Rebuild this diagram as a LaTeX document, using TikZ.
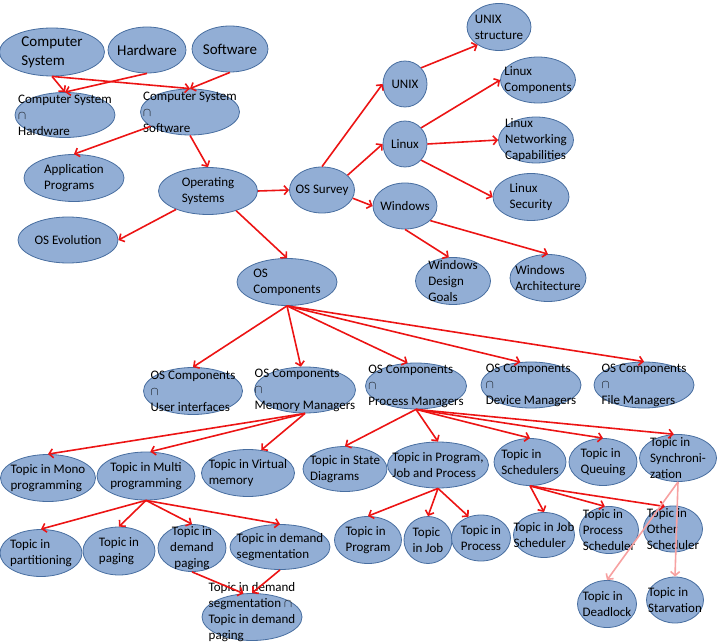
\documentclass[tikz,border=0pt]{standalone}
\usepackage{fontspec}
\setmainfont{Carlito}
\usetikzlibrary{arrows.meta,shapes.geometric}
\definecolor{blobfill}{RGB}{146,174,213}
\definecolor{blobline}{RGB}{72,110,160}
\definecolor{linkred}{RGB}{236,20,20}
\tikzset{blob/.style={ellipse,draw=blobline,fill=blobfill,line width=0.8pt,inner sep=0pt}}
\tikzset{txt/.style={align=left,inner sep=0pt,font=\fontsize{13}{16}\selectfont}}
\tikzset{big/.style={font=\fontsize{15}{19}\selectfont}}
\tikzset{link/.style={draw=linkred,line width=1.6pt,
                      -{Straight Barb[length=4pt,width=9pt]}}}
\tikzset{faint/.style={link,draw=linkred!40}}
\newcommand{\bubble}[6][]{%
  \node[blob,minimum width=#4pt,minimum height=#5pt] (#2) at (#3) {};
  \node[txt,#1] (#2-t) at (#2) {#6};}

\begin{document}
\begin{tikzpicture}[x=1pt,y=-1pt]
    \useasboundingbox (0,0) rectangle (717,644);
    % top rows
    \bubble[big]{cs}{52,52}{105}{48}{Computer\\System}
    \bubble[big]{hw}{147,50}{78}{46}{Hardware}
    \bubble[big]{sw}{230,49}{76}{46}{Software}
    \bubble{cshw}{65,115}{100}{45}{Computer System\\$\cap$\\Hardware}
    \bubble{cssw}{190,112}{99}{46}{Computer System\\$\cap$\\Software}
    \bubble{app}{74,178}{100}{47}{Application\\Programs}
    \bubble{os}{208,191}{99}{47}{Operating\\Systems}
    \bubble{evo}{68,240}{100}{46}{OS Evolution}
    \bubble{survey}{322,190}{65}{46}{OS Survey}
    % survey branch
    \bubble{unixs}{499,27}{64}{47}{UNIX\\structure}
    \bubble{unix}{405,84}{44}{46}{UNIX}
    \bubble{lcomp}{538,80}{75}{46}{Linux\\Components}
    \bubble{linux}{405,144}{44}{46}{Linux}
    \bubble{lnet}{536,140}{75}{46}{Linux\\Networking\\Capabilities}
    \bubble{lsec}{531,197}{76}{47}{Linux\\Security}
    \bubble{win}{405,206}{64}{46}{Windows}
    \bubble{wdg}{453,281}{75}{47}{Windows\\Design\\Goals}
    \bubble{warch}{548,278}{76}{47}{Windows\\Architecture}
    % components
    \bubble{comp}{287,282}{100}{47}{OS\\Components}
    \bubble{ui}{193,391}{99}{47}{OS Components\\$\cap$\\User interfaces}
    \bubble{mm}{305,390}{101}{46}{OS Components\\$\cap$\\Memory Managers}
    \bubble{pm}{416,386}{101}{46}{OS Components\\$\cap$\\Process Managers}
    \bubble{dm}{531,385}{100}{46}{OS Components\\$\cap$\\Device Managers}
    \bubble{fm}{644,385}{100}{46}{OS Components\\$\cap$\\File Managers}
    % topics
    \bubble{mono}{48,478}{95}{47}{Topic in Mono\\programming}
    \bubble{multi}{146,476}{98}{48}{Topic in Multi\\programming}
    \bubble{virt}{248,473}{93}{47}{Topic in Virtual\\memory}
    \bubble{state}{345,469}{84}{45}{Topic in State\\Diagrams}
    \bubble{pjp}{438,465}{101}{46}{Topic in Program,\\Job and Process}
    \bubble{sched}{530,462}{72}{47}{Topic in\\Schedulers}
    \bubble{queue}{603,462}{68}{47}{Topic in\\Queuing}
    \bubble{sync}{678,458}{77}{47}{Topic in\\Synchroni-\\zation}
    \bubble{part}{41,553}{82}{47}{Topic in\\partitioning}
    \bubble{paging}{119,551}{72}{48}{Topic in\\paging}
    \bubble[align=center]{dpag}{192,548}{68}{47}{Topic in\\demand\\paging}
    \bubble{dseg}{280,547}{100}{45}{Topic in demand\\segmentation}
    \bubble[yshift=5pt]{inter}{252,617}{100}{47}{Topic in demand\\segmentation $\cap$\\Topic in demand\\paging}
    \bubble{prog}{368,540}{67}{47}{Topic in\\Program}
    \bubble{job}{428,540}{48}{47}{Topic\\in Job}
    \bubble{proc}{481,538}{59}{46}{Topic in\\Process}
    \bubble{jobs}{544,535}{61}{45}{Topic in Job\\Scheduler}
    \bubble{procs}{609,530}{59}{47}{Topic in\\Process\\Scheduler}
    \bubble{other}{673,529}{59}{46}{Topic in\\Other\\Scheduler}
    \bubble{dead}{607,604}{59}{47}{Topic in\\Deadlock}
    \bubble{starv}{675,600}{57}{46}{Topic in\\Starvation}
    % links
    \foreach \a/\b in {cs.south/cshw.north, cs.south/cssw.north,
                       hw.south/cshw.north, sw.south/cssw.north,
                       cssw.200/app.north, cssw.south/os.north,
                       os.east/survey.west, os.210/evo.east, os.-35/comp.north,
                       survey.north/unix.west, survey.30/linux.west,
                       survey.-15/win.west, unix.45/unixs.220,
                       linux.45/lcomp.west, linux.east/lnet.west,
                       linux.-45/lsec.west, win.south/wdg.100,
                       win.-30/warch.north,
                       comp.south/ui.north, comp.south/mm.100,
                       comp.south/pm.110, comp.south/dm.115,
                       comp.south/fm.north,
                       mm.south/mono.north, mm.south/multi.80,
                       mm.south/virt.60,
                       pm.south/state.north, pm.south/pjp.north,
                       pm.south/sched.north, pm.south/queue.north,
                       pm.south/sync.100,
                       multi.south/part.north, multi.south/paging.north,
                       multi.south/dpag.north, multi.south/dseg.north,
                       dpag.south/inter.110, dseg.south/inter.north,
                       pjp.south/prog.north, pjp.south/job.north,
                       pjp.south/proc.120,
                       sched.south/jobs.north, sched.south/procs.100,
                       sched.south/other.110}{%
          \draw[link] (\a) -- (\b);
        }
    \draw[faint] (sync.south) -- (dead.north);
    \draw[faint] (sync.south) -- (starv.north);
\end{tikzpicture}
\end{document}
